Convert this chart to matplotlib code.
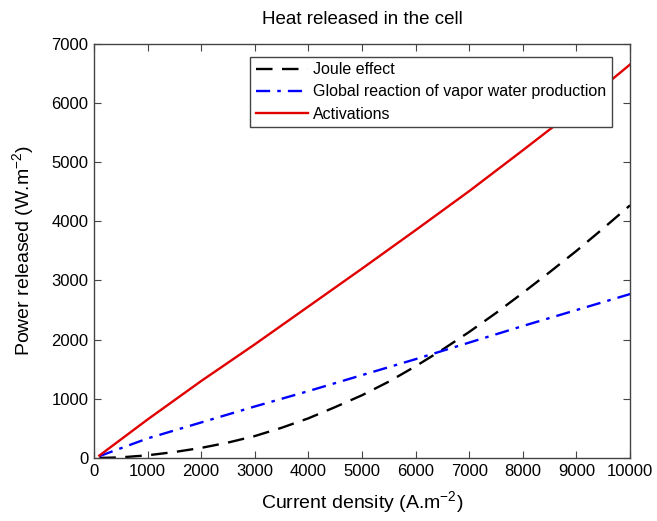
import matplotlib
matplotlib.use("Agg")
import matplotlib.pyplot as plt

plt.rcParams["font.family"] = ["Liberation Sans", "DejaVu Sans"]

# current density (A.m-2)
j_joule = [100, 500, 1000, 1500, 2000, 2500, 3000, 3500, 4000, 4500, 5000,
           5500, 6000, 6500, 7000, 7500, 8000, 8500, 9000, 9500, 10000]
joule = [0, 10, 45, 100, 170, 260, 370, 510, 670, 860, 1060,
         1290, 1550, 1830, 2130, 2450, 2790, 3140, 3500, 3880, 4270]

j_other = [100, 1000, 2000, 3000, 4000, 5000, 6000, 7000, 8000, 9000, 10000]
vapor = [30, 330, 600, 870, 1130, 1400, 1670, 1950, 2230, 2500, 2770]
activ = [40, 650, 1300, 1920, 2560, 3200, 3850, 4510, 5200, 5900, 6650]

fig = plt.figure(figsize=(6.57, 5.21), dpi=100)
ax = fig.add_axes([0.143, 0.121, 0.816, 0.795])

ax.plot(j_joule, joule, color="black", linestyle=(0, (7, 4)), linewidth=1.7,
        label="Joule effect")
ax.plot(j_other, vapor, color="blue", linestyle=(0, (6, 3, 1.5, 3)), linewidth=1.7,
        label="Global reaction of vapor water production")
ax.plot(j_other, activ, color="#e00000", linewidth=1.7, label="Activations")

ax.set_xlim(0, 10000)
ax.set_ylim(0, 7000)
ax.set_xticks(range(0, 10001, 1000))
ax.set_yticks(range(0, 7001, 1000))
ax.tick_params(direction="in", top=True, right=True, labelsize=12,
               length=5, color="#444444", pad=4)
for s in ax.spines.values():
    s.set_color("#444444")
    s.set_linewidth(1.0)

ax.set_title("Heat released in the cell", fontsize=13.5, pad=14)
ax.set_xlabel("Current density (A.m$^{\\mathregular{-2}}$)", fontsize=14, labelpad=8)
ax.set_ylabel("Power released (W.m$^{\\mathregular{-2}}$)", fontsize=14, labelpad=10)

leg = ax.legend(loc="upper right", bbox_to_anchor=(0.966, 0.969), borderaxespad=0,
                fancybox=False, framealpha=1, edgecolor="#444444", fontsize=11.5,
                handlelength=3.3, handletextpad=0.3, labelspacing=0.45,
                borderpad=0.35)
leg.get_frame().set_linewidth(1.0)

fig.savefig("out.png", dpi=100)
